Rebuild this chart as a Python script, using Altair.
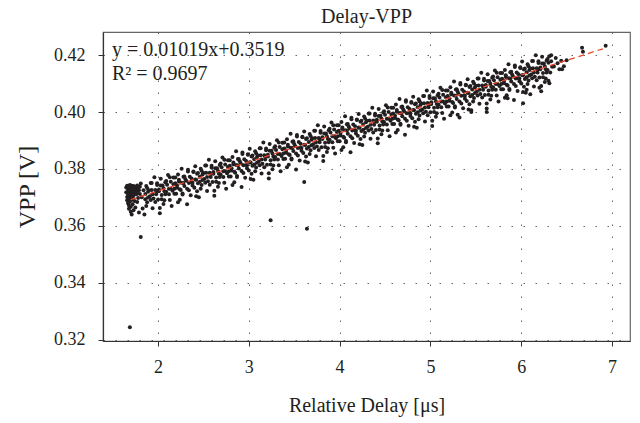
import altair as alt
import pandas as pd

# ---------------- data ----------------
# dense cluster at the start of the record
delay_cluster = [1.65, 1.65, 1.66, 1.66, 1.66, 1.67, 1.67, 1.67, 1.67, 1.68, 1.68, 1.68, 1.68, 1.68,
                 1.69, 1.69, 1.69, 1.69, 1.69, 1.70, 1.70, 1.70, 1.70, 1.70, 1.71, 1.71, 1.71, 1.71, 1.71,
                 1.72, 1.72, 1.72, 1.72, 1.73, 1.73, 1.73, 1.73, 1.74, 1.74, 1.74, 1.75, 1.75, 1.75,
                 1.76, 1.76, 1.77, 1.77, 1.77, 1.78, 1.78, 1.79, 1.79, 1.80, 1.80]
vpp_cluster = [0.3735, 0.3718, 0.3702, 0.3690, 0.3741, 0.3727, 0.3710, 0.3695, 0.3680, 0.3738, 0.3722, 0.3706, 0.3672, 0.3660,
               0.3744, 0.3730, 0.3714, 0.3698, 0.3685, 0.3735, 0.3720, 0.3703, 0.3667, 0.3650, 0.3741, 0.3726, 0.3710, 0.3692, 0.3640,
               0.3732, 0.3715, 0.3700, 0.3676, 0.3740, 0.3724, 0.3707, 0.3655, 0.3730, 0.3716, 0.3688, 0.3737, 0.3721, 0.3665,
               0.3728, 0.3711, 0.3742, 0.3718, 0.3684, 0.3733, 0.3698, 0.3725, 0.3647, 0.3738, 0.3712]

# main band, first pass
delay_band = [
    1.81, 1.87, 1.84, 1.89, 1.82, 1.86, 1.88, 1.83, 1.85,
    1.96, 1.92, 1.99, 1.93, 1.98, 1.91, 1.95, 1.97, 1.94,
    2.03, 2.09, 2.05, 2.01, 2.07, 2.08, 2.04, 2.06, 2.02,
    2.11, 2.17, 2.14, 2.19, 2.12, 2.16, 2.18, 2.13, 2.15,
    2.26, 2.22, 2.29, 2.23, 2.28, 2.21, 2.25, 2.27, 2.24,
    2.33, 2.39, 2.35, 2.31, 2.37, 2.38, 2.34, 2.36, 2.32,
    2.41, 2.47, 2.44, 2.49, 2.42, 2.46, 2.48, 2.43, 2.45,
    2.56, 2.52, 2.59, 2.53, 2.58, 2.51, 2.55, 2.57, 2.54,
    2.63, 2.69, 2.65, 2.61, 2.67, 2.68, 2.64, 2.66, 2.62,
    2.71, 2.77, 2.74, 2.79, 2.72, 2.76, 2.78, 2.73, 2.75,
    2.86, 2.82, 2.89, 2.83, 2.88, 2.81, 2.85, 2.87, 2.84,
    2.93, 2.99, 2.95, 2.91, 2.97, 2.98, 2.94, 2.96, 2.92,
    3.01, 3.07, 3.04, 3.09, 3.02, 3.06, 3.08, 3.03, 3.05,
    3.16, 3.12, 3.19, 3.13, 3.18, 3.11, 3.15, 3.17, 3.14,
    3.23, 3.29, 3.25, 3.21, 3.27, 3.28, 3.24, 3.26, 3.22,
    3.31, 3.37, 3.34, 3.39, 3.32, 3.36, 3.38, 3.33, 3.35,
    3.46, 3.42, 3.49, 3.43, 3.48, 3.41, 3.45, 3.47, 3.44,
    3.53, 3.59, 3.55, 3.51, 3.57, 3.58, 3.54, 3.56, 3.52,
    3.61, 3.67, 3.64, 3.69, 3.62, 3.66, 3.68, 3.63, 3.65,
    3.76, 3.72, 3.79, 3.73, 3.78, 3.71, 3.75, 3.77, 3.74,
    3.83, 3.89, 3.85, 3.81, 3.87, 3.88, 3.84, 3.86, 3.82,
    3.91, 3.97, 3.94, 3.99, 3.92, 3.96, 3.98, 3.93, 3.95,
    4.06, 4.02, 4.09, 4.03, 4.08, 4.01, 4.05, 4.07, 4.04,
    4.13, 4.19, 4.15, 4.11, 4.17, 4.18, 4.14, 4.16, 4.12,
    4.21, 4.27, 4.24, 4.29, 4.22, 4.26, 4.28, 4.23, 4.25,
    4.36, 4.32, 4.39, 4.33, 4.38, 4.31, 4.35, 4.37, 4.34,
    4.43, 4.49, 4.45, 4.41, 4.47, 4.48, 4.44, 4.46, 4.42,
    4.51, 4.57, 4.54, 4.59, 4.52, 4.56, 4.58, 4.53, 4.55,
    4.66, 4.62, 4.69, 4.63, 4.68, 4.61, 4.65, 4.67, 4.64,
    4.73, 4.79, 4.75, 4.71, 4.77, 4.78, 4.74, 4.76, 4.72,
    4.81, 4.87, 4.84, 4.89, 4.82, 4.86, 4.88, 4.83, 4.85,
    4.96, 4.92, 4.99, 4.93, 4.98, 4.91, 4.95, 4.97, 4.94,
    5.03, 5.09, 5.05, 5.01, 5.07, 5.08, 5.04, 5.06, 5.02,
    5.11, 5.17, 5.14, 5.19, 5.12, 5.16, 5.18, 5.13, 5.15,
    5.26, 5.22, 5.29, 5.23, 5.28, 5.21, 5.25, 5.27, 5.24,
    5.33, 5.39, 5.35, 5.31, 5.37, 5.38, 5.34, 5.36, 5.32,
    5.41, 5.47, 5.44, 5.49, 5.42, 5.46, 5.48, 5.43, 5.45,
    5.56, 5.52, 5.59, 5.53, 5.58, 5.51, 5.55, 5.57, 5.54,
    5.63, 5.69, 5.65, 5.61, 5.67, 5.68, 5.64, 5.66, 5.62,
    5.71, 5.77, 5.74, 5.79, 5.72, 5.76, 5.78, 5.73, 5.75,
    5.86, 5.82, 5.89, 5.83, 5.88, 5.81, 5.85, 5.87, 5.84,
    5.93, 5.99, 5.95, 5.91, 5.97, 5.98, 5.94, 5.96, 5.92,
    6.01, 6.07, 6.04, 6.09, 6.02, 6.06, 6.08, 6.03, 6.05,
    6.16, 6.12, 6.19, 6.13, 6.18, 6.11, 6.15, 6.17, 6.14,
    6.23, 6.29, 6.25, 6.21, 6.27, 6.28, 6.24, 6.26, 6.22,
    6.31, 6.33, 6.36, 6.38, 6.40, 6.42, 6.44, 6.47, 6.45, 6.50,
]
vpp_band = [
    0.3749, 0.3740, 0.3725, 0.3720, 0.3701, 0.3694, 0.3683, 0.3661, 0.3640,
    0.3771, 0.3751, 0.3744, 0.3726, 0.3721, 0.3704, 0.3696, 0.3684, 0.3662,
    0.3766, 0.3758, 0.3742, 0.3728, 0.3722, 0.3711, 0.3694, 0.3677, 0.3645,
    0.3779, 0.3770, 0.3755, 0.3750, 0.3731, 0.3724, 0.3713, 0.3691, 0.3670,
    0.3801, 0.3781, 0.3774, 0.3756, 0.3751, 0.3734, 0.3726, 0.3714, 0.3692,
    0.3797, 0.3789, 0.3773, 0.3759, 0.3753, 0.3742, 0.3725, 0.3708, 0.3676,
    0.3810, 0.3801, 0.3786, 0.3781, 0.3762, 0.3755, 0.3744, 0.3722, 0.3701,
    0.3832, 0.3812, 0.3805, 0.3787, 0.3782, 0.3765, 0.3757, 0.3745, 0.3723,
    0.3827, 0.3819, 0.3803, 0.3789, 0.3783, 0.3772, 0.3755, 0.3738, 0.3706,
    0.3840, 0.3831, 0.3816, 0.3811, 0.3792, 0.3785, 0.3774, 0.3752, 0.3731,
    0.3862, 0.3842, 0.3835, 0.3817, 0.3812, 0.3795, 0.3787, 0.3775, 0.3753,
    0.3858, 0.3850, 0.3834, 0.3820, 0.3814, 0.3803, 0.3786, 0.3769, 0.3737,
    0.3871, 0.3862, 0.3847, 0.3842, 0.3823, 0.3816, 0.3805, 0.3783, 0.3762,
    0.3893, 0.3873, 0.3866, 0.3848, 0.3843, 0.3826, 0.3818, 0.3806, 0.3784,
    0.3888, 0.3880, 0.3864, 0.3850, 0.3844, 0.3833, 0.3816, 0.3799, 0.3767,
    0.3901, 0.3892, 0.3877, 0.3872, 0.3853, 0.3846, 0.3835, 0.3813, 0.3792,
    0.3924, 0.3904, 0.3897, 0.3879, 0.3874, 0.3857, 0.3849, 0.3837, 0.3815,
    0.3919, 0.3911, 0.3895, 0.3881, 0.3875, 0.3864, 0.3847, 0.3830, 0.3798,
    0.3932, 0.3923, 0.3908, 0.3903, 0.3884, 0.3877, 0.3866, 0.3844, 0.3823,
    0.3954, 0.3934, 0.3927, 0.3909, 0.3904, 0.3887, 0.3879, 0.3867, 0.3845,
    0.3949, 0.3941, 0.3925, 0.3911, 0.3905, 0.3894, 0.3877, 0.3860, 0.3828,
    0.3963, 0.3954, 0.3939, 0.3934, 0.3915, 0.3908, 0.3897, 0.3875, 0.3854,
    0.3985, 0.3965, 0.3958, 0.3940, 0.3935, 0.3918, 0.3910, 0.3898, 0.3876,
    0.3980, 0.3972, 0.3956, 0.3942, 0.3936, 0.3925, 0.3908, 0.3891, 0.3859,
    0.3993, 0.3984, 0.3969, 0.3964, 0.3945, 0.3938, 0.3927, 0.3905, 0.3884,
    0.4015, 0.3995, 0.3988, 0.3970, 0.3965, 0.3948, 0.3940, 0.3928, 0.3906,
    0.4011, 0.4003, 0.3987, 0.3973, 0.3967, 0.3956, 0.3939, 0.3922, 0.3890,
    0.4024, 0.4015, 0.4000, 0.3995, 0.3976, 0.3969, 0.3958, 0.3936, 0.3915,
    0.4046, 0.4026, 0.4019, 0.4001, 0.3996, 0.3979, 0.3971, 0.3959, 0.3937,
    0.4041, 0.4033, 0.4017, 0.4003, 0.3997, 0.3986, 0.3969, 0.3952, 0.3920,
    0.4054, 0.4045, 0.4030, 0.4025, 0.4006, 0.3999, 0.3988, 0.3966, 0.3945,
    0.4076, 0.4056, 0.4049, 0.4031, 0.4026, 0.4009, 0.4001, 0.3989, 0.3967,
    0.4072, 0.4064, 0.4048, 0.4034, 0.4028, 0.4017, 0.4000, 0.3983, 0.3951,
    0.4085, 0.4076, 0.4061, 0.4056, 0.4037, 0.4030, 0.4019, 0.3997, 0.3976,
    0.4107, 0.4087, 0.4080, 0.4062, 0.4057, 0.4040, 0.4032, 0.4020, 0.3998,
    0.4102, 0.4094, 0.4078, 0.4064, 0.4058, 0.4047, 0.4030, 0.4013, 0.3981,
    0.4115, 0.4106, 0.4091, 0.4086, 0.4067, 0.4060, 0.4049, 0.4027, 0.4006,
    0.4138, 0.4118, 0.4111, 0.4093, 0.4088, 0.4071, 0.4063, 0.4051, 0.4029,
    0.4133, 0.4125, 0.4109, 0.4095, 0.4089, 0.4078, 0.4061, 0.4044, 0.4012,
    0.4146, 0.4137, 0.4122, 0.4117, 0.4098, 0.4091, 0.4080, 0.4058, 0.4037,
    0.4168, 0.4148, 0.4141, 0.4123, 0.4118, 0.4101, 0.4093, 0.4081, 0.4059,
    0.4163, 0.4155, 0.4139, 0.4125, 0.4119, 0.4108, 0.4091, 0.4074, 0.4042,
    0.4177, 0.4168, 0.4153, 0.4148, 0.4129, 0.4122, 0.4111, 0.4089, 0.4068,
    0.4199, 0.4179, 0.4172, 0.4154, 0.4149, 0.4132, 0.4124, 0.4112, 0.4090,
    0.4194, 0.4186, 0.4170, 0.4156, 0.4150, 0.4139, 0.4122, 0.4105, 0.4073,
    0.4196, 0.4178, 0.4160, 0.4190, 0.4171, 0.4150, 0.4180, 0.4161, 0.4150, 0.4182,
]

# main band, second pass (fills the gaps between the first one)
delay_band2 = [
    1.93, 1.88, 1.90, 1.86, 1.94, 1.89, 1.92, 1.87,
    1.99, 2.03, 1.97, 2.01, 1.98, 2.04, 2.00, 2.02,
    2.13, 2.08, 2.10, 2.06, 2.14, 2.09, 2.12, 2.07,
    2.19, 2.23, 2.17, 2.21, 2.18, 2.24, 2.20, 2.22,
    2.33, 2.28, 2.30, 2.26, 2.34, 2.29, 2.32, 2.27,
    2.39, 2.43, 2.37, 2.41, 2.38, 2.44, 2.40, 2.42,
    2.53, 2.48, 2.50, 2.46, 2.54, 2.49, 2.52, 2.47,
    2.59, 2.63, 2.57, 2.61, 2.58, 2.64, 2.60, 2.62,
    2.73, 2.68, 2.70, 2.66, 2.74, 2.69, 2.72, 2.67,
    2.79, 2.83, 2.77, 2.81, 2.78, 2.84, 2.80, 2.82,
    2.93, 2.88, 2.90, 2.86, 2.94, 2.89, 2.92, 2.87,
    2.99, 3.03, 2.97, 3.01, 2.98, 3.04, 3.00, 3.02,
    3.13, 3.08, 3.10, 3.06, 3.14, 3.09, 3.12, 3.07,
    3.19, 3.23, 3.17, 3.21, 3.18, 3.24, 3.20, 3.22,
    3.33, 3.28, 3.30, 3.26, 3.34, 3.29, 3.32, 3.27,
    3.39, 3.43, 3.37, 3.41, 3.38, 3.44, 3.40, 3.42,
    3.53, 3.48, 3.50, 3.46, 3.54, 3.49, 3.52, 3.47,
    3.59, 3.63, 3.57, 3.61, 3.58, 3.64, 3.60, 3.62,
    3.73, 3.68, 3.70, 3.66, 3.74, 3.69, 3.72, 3.67,
    3.79, 3.83, 3.77, 3.81, 3.78, 3.84, 3.80, 3.82,
    3.93, 3.88, 3.90, 3.86, 3.94, 3.89, 3.92, 3.87,
    3.99, 4.03, 3.97, 4.01, 3.98, 4.04, 4.00, 4.02,
    4.13, 4.08, 4.10, 4.06, 4.14, 4.09, 4.12, 4.07,
    4.19, 4.23, 4.17, 4.21, 4.18, 4.24, 4.20, 4.22,
    4.33, 4.28, 4.30, 4.26, 4.34, 4.29, 4.32, 4.27,
    4.39, 4.43, 4.37, 4.41, 4.38, 4.44, 4.40, 4.42,
    4.53, 4.48, 4.50, 4.46, 4.54, 4.49, 4.52, 4.47,
    4.59, 4.63, 4.57, 4.61, 4.58, 4.64, 4.60, 4.62,
    4.73, 4.68, 4.70, 4.66, 4.74, 4.69, 4.72, 4.67,
    4.79, 4.83, 4.77, 4.81, 4.78, 4.84, 4.80, 4.82,
    4.93, 4.88, 4.90, 4.86, 4.94, 4.89, 4.92, 4.87,
    4.99, 5.03, 4.97, 5.01, 4.98, 5.04, 5.00, 5.02,
    5.13, 5.08, 5.10, 5.06, 5.14, 5.09, 5.12, 5.07,
    5.19, 5.23, 5.17, 5.21, 5.18, 5.24, 5.20, 5.22,
    5.33, 5.28, 5.30, 5.26, 5.34, 5.29, 5.32, 5.27,
    5.39, 5.43, 5.37, 5.41, 5.38, 5.44, 5.40, 5.42,
    5.53, 5.48, 5.50, 5.46, 5.54, 5.49, 5.52, 5.47,
    5.59, 5.63, 5.57, 5.61, 5.58, 5.64, 5.60, 5.62,
    5.73, 5.68, 5.70, 5.66, 5.74, 5.69, 5.72, 5.67,
    5.79, 5.83, 5.77, 5.81, 5.78, 5.84, 5.80, 5.82,
    5.93, 5.88, 5.90, 5.86, 5.94, 5.89, 5.92, 5.87,
    5.99, 6.03, 5.97, 6.01, 5.98, 6.04, 6.00, 6.02,
    6.13, 6.08, 6.10, 6.06, 6.14, 6.09, 6.12, 6.07,
    6.19, 6.23, 6.17, 6.21, 6.18, 6.24, 6.20, 6.22,
    6.33, 6.28, 6.30, 6.26, 6.34, 6.29, 6.32, 6.27,
]
vpp_band2 = [
    0.3751, 0.3733, 0.3725, 0.3712, 0.3711, 0.3700, 0.3691, 0.3670,
    0.3750, 0.3742, 0.3726, 0.3722, 0.3711, 0.3709, 0.3693, 0.3663,
    0.3771, 0.3753, 0.3745, 0.3732, 0.3731, 0.3720, 0.3711, 0.3690,
    0.3770, 0.3762, 0.3746, 0.3742, 0.3731, 0.3729, 0.3713, 0.3683,
    0.3791, 0.3773, 0.3765, 0.3752, 0.3751, 0.3740, 0.3731, 0.3710,
    0.3791, 0.3783, 0.3767, 0.3763, 0.3752, 0.3750, 0.3734, 0.3704,
    0.3812, 0.3794, 0.3786, 0.3773, 0.3772, 0.3761, 0.3752, 0.3731,
    0.3811, 0.3803, 0.3787, 0.3783, 0.3772, 0.3770, 0.3754, 0.3724,
    0.3832, 0.3814, 0.3806, 0.3793, 0.3792, 0.3781, 0.3772, 0.3751,
    0.3831, 0.3823, 0.3807, 0.3803, 0.3792, 0.3790, 0.3774, 0.3744,
    0.3853, 0.3835, 0.3827, 0.3814, 0.3813, 0.3802, 0.3793, 0.3772,
    0.3852, 0.3844, 0.3828, 0.3824, 0.3813, 0.3811, 0.3795, 0.3765,
    0.3873, 0.3855, 0.3847, 0.3834, 0.3833, 0.3822, 0.3813, 0.3792,
    0.3872, 0.3864, 0.3848, 0.3844, 0.3833, 0.3831, 0.3815, 0.3785,
    0.3893, 0.3875, 0.3867, 0.3854, 0.3853, 0.3842, 0.3833, 0.3812,
    0.3893, 0.3885, 0.3869, 0.3865, 0.3854, 0.3852, 0.3836, 0.3806,
    0.3914, 0.3896, 0.3888, 0.3875, 0.3874, 0.3863, 0.3854, 0.3833,
    0.3913, 0.3905, 0.3889, 0.3885, 0.3874, 0.3872, 0.3856, 0.3826,
    0.3934, 0.3916, 0.3908, 0.3895, 0.3894, 0.3883, 0.3874, 0.3853,
    0.3933, 0.3925, 0.3909, 0.3905, 0.3894, 0.3892, 0.3876, 0.3846,
    0.3954, 0.3936, 0.3928, 0.3915, 0.3914, 0.3903, 0.3894, 0.3873,
    0.3954, 0.3946, 0.3930, 0.3926, 0.3915, 0.3913, 0.3897, 0.3867,
    0.3975, 0.3957, 0.3949, 0.3936, 0.3935, 0.3924, 0.3915, 0.3894,
    0.3974, 0.3966, 0.3950, 0.3946, 0.3935, 0.3933, 0.3917, 0.3887,
    0.3995, 0.3977, 0.3969, 0.3956, 0.3955, 0.3944, 0.3935, 0.3914,
    0.3994, 0.3986, 0.3970, 0.3966, 0.3955, 0.3953, 0.3937, 0.3907,
    0.4016, 0.3998, 0.3990, 0.3977, 0.3976, 0.3965, 0.3956, 0.3935,
    0.4015, 0.4007, 0.3991, 0.3987, 0.3976, 0.3974, 0.3958, 0.3928,
    0.4036, 0.4018, 0.4010, 0.3997, 0.3996, 0.3985, 0.3976, 0.3955,
    0.4035, 0.4027, 0.4011, 0.4007, 0.3996, 0.3994, 0.3978, 0.3948,
    0.4056, 0.4038, 0.4030, 0.4017, 0.4016, 0.4005, 0.3996, 0.3975,
    0.4056, 0.4048, 0.4032, 0.4028, 0.4017, 0.4015, 0.3999, 0.3969,
    0.4077, 0.4059, 0.4051, 0.4038, 0.4037, 0.4026, 0.4017, 0.3996,
    0.4076, 0.4068, 0.4052, 0.4048, 0.4037, 0.4035, 0.4019, 0.3989,
    0.4097, 0.4079, 0.4071, 0.4058, 0.4057, 0.4046, 0.4037, 0.4016,
    0.4096, 0.4088, 0.4072, 0.4068, 0.4057, 0.4055, 0.4039, 0.4009,
    0.4118, 0.4100, 0.4092, 0.4079, 0.4078, 0.4067, 0.4058, 0.4037,
    0.4117, 0.4109, 0.4093, 0.4089, 0.4078, 0.4076, 0.4060, 0.4030,
    0.4138, 0.4120, 0.4112, 0.4099, 0.4098, 0.4087, 0.4078, 0.4057,
    0.4137, 0.4129, 0.4113, 0.4109, 0.4098, 0.4096, 0.4080, 0.4050,
    0.4158, 0.4140, 0.4132, 0.4119, 0.4118, 0.4107, 0.4098, 0.4077,
    0.4157, 0.4149, 0.4133, 0.4129, 0.4118, 0.4116, 0.4100, 0.4070,
    0.4179, 0.4161, 0.4153, 0.4140, 0.4139, 0.4128, 0.4119, 0.4098,
    0.4178, 0.4170, 0.4154, 0.4150, 0.4139, 0.4137, 0.4121, 0.4091,
    0.4199, 0.4181, 0.4173, 0.4160, 0.4159, 0.4148, 0.4139, 0.4118,
]

# isolated points
delay_sparse = [1.69, 1.81, 3.24, 3.64, 3.61, 5.62, 6.02, 5.85, 6.10, 6.20, 5.45, 5.30,
                6.06, 6.30, 6.31, 6.67, 6.68, 6.93]
vpp_sparse = [0.3244, 0.3561, 0.3620, 0.3590, 0.3754, 0.4000, 0.4031, 0.4048, 0.4062, 0.4085, 0.4000, 0.3990,
              0.4078, 0.4110, 0.4101, 0.4226, 0.4212, 0.4233]

# linear fit shown on the chart
fit_slope = 0.01019
fit_intercept = 0.3519
fit_range = [1.70, 6.90]
eq_line1 = "y = 0.01019x+0.3519"
eq_line2 = "R\u00b2 = 0.9697"

# ---------------- chart ----------------
FONT = "Liberation Serif"
INK = "#231f20"

pts = pd.DataFrame({
    "delay": delay_cluster + delay_band + delay_band2 + delay_sparse,
    "vpp": vpp_cluster + vpp_band + vpp_band2 + vpp_sparse,
})
fit = pd.DataFrame({"delay": fit_range,
                    "vpp": [fit_slope * v + fit_intercept for v in fit_range]})

xscale = alt.Scale(domain=[1.394, 7.198], nice=False, zero=False)
yscale = alt.Scale(domain=[0.3196, 0.4281], nice=False, zero=False)

common_axis = dict(labelFont=FONT, titleFont=FONT, labelColor=INK, titleColor=INK,
                   titleFontWeight="normal", labelFontWeight="normal",
                   domainColor="#333333", tickColor="#333333", domainWidth=1.2,
                   gridColor="#555555", gridDash=[1.5, 10.5], gridWidth=1, gridOpacity=0.9,
                   tickSize=5, grid=True)

xaxis = alt.Axis(values=[2, 3, 4, 5, 6, 7], format="d", title="Relative Delay [\u03bcs]",
                 labelFontSize=18, titleFontSize=20, labelPadding=12, titlePadding=19,
                 **common_axis)
yaxis = alt.Axis(values=[0.32, 0.34, 0.36, 0.38, 0.40, 0.42], format=".2f", title="VPP [V]",
                 labelFontSize=18, titleFontSize=24, labelPadding=13, titlePadding=14,
                 **common_axis)

points = alt.Chart(pts).mark_circle(size=16, color=INK, opacity=1).encode(
    x=alt.X("delay:Q", scale=xscale, axis=xaxis),
    y=alt.Y("vpp:Q", scale=yscale, axis=yaxis),
)

line = alt.Chart(fit).mark_line(color="#e8472b", strokeDash=[6, 4], strokeWidth=1.3).encode(
    x=alt.X("delay:Q", scale=xscale),
    y=alt.Y("vpp:Q", scale=yscale),
)

text1 = alt.Chart(pd.DataFrame({"t": [eq_line1]})).mark_text(
    align="left", baseline="alphabetic", font=FONT, fontSize=20, color=INK
).encode(x=alt.value(9), y=alt.value(24), text="t:N")

text2 = alt.Chart(pd.DataFrame({"t": [eq_line2]})).mark_text(
    align="left", baseline="alphabetic", font=FONT, fontSize=20, color=INK
).encode(x=alt.value(9), y=alt.value(48), text="t:N")

chart = alt.layer(points, line, text1, text2).properties(
    width=527, height=309,
    title=alt.TitleParams("Delay-VPP", fontSize=20, font=FONT, fontWeight="normal",
                          color=INK, offset=5),
    autosize=alt.AutoSizeParams(type="none"),
    padding={"left": 103, "top": 32, "right": 10, "bottom": 82},
    background="white",
).configure_view(
    stroke="#666666", strokeWidth=1.2
)

chart.save("out.html", embed_options={"renderer": "svg", "actions": False})
